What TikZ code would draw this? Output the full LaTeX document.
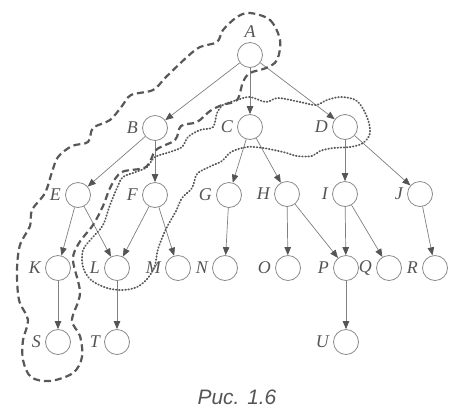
\documentclass[tikz,border=0pt]{standalone}
\usepackage{fontspec}
\setmainfont{Liberation Serif}
\newfontfamily\capfont{Liberation Sans}
\usetikzlibrary{arrows.meta}

\definecolor{vgray}{HTML}{8A8A8A}
\definecolor{egray}{HTML}{808080}
\definecolor{tgray}{HTML}{555555}
\definecolor{cgray}{HTML}{585858}

\begin{document}
\begin{tikzpicture}[x=1bp,y=-1bp,
  vert/.style={circle,draw=vgray,line width=0.8bp,minimum size=25bp,inner sep=0pt},
  edge/.style={draw=egray,line width=0.7bp,
    -{Triangle[length=8bp,width=6.5bp,color=tgray,fill=tgray]}},
  every label/.style={font=\fontsize{18}{20}\selectfont\itshape,text=tgray,inner sep=0pt},
  label distance=4bp,
  dashloop/.style={draw=cgray,line width=2.2bp,dash pattern=on 7bp off 4bp},
  dotloop/.style={draw=cgray,line width=1.8bp,dash pattern=on 0.7bp off 2.4bp,line cap=round}
]
\useasboundingbox (0,0) rectangle (456,410);
\fill[white] (0,0) rectangle (456,410);

% vertices of the tree
\newcommand\vx[4]{\node[vert,label={#4:#1}] (#1) at (#2,#3) {};}
\vx{A}{250}{55}{above}
\vx{B}{155}{128}{left}
\vx{C}{250}{127}{left}
\vx{D}{345}{127}{left}
\vx{E}{78}{195}{left}
\vx{F}{155}{195}{left}
\vx{G}{229}{195}{left}
\vx{H}{287}{194}{left}
\vx{I}{345}{194}{left}
\vx{J}{420}{194}{left}
\vx{K}{58}{268}{left}
\vx{L}{117}{268}{left}
\vx{M}{178}{268}{left}
\vx{N}{225}{268}{left}
\vx{O}{288}{268}{left}
\vx{P}{346}{268}{left}
\vx{Q}{389}{268}{left}
\vx{R}{435}{268}{left}
\vx{S}{58}{342}{left}
\vx{T}{117}{342}{left}
\vx{U}{346}{342}{left}

% directed edges
\foreach \a/\b in {A/B,A/C,A/D,B/E,B/F,C/G,C/H,D/I,D/J,
                   E/K,E/L,F/L,F/M,G/N,H/O,H/P,I/P,I/Q,J/R,
                   K/S,L/T,P/U}
  \draw[edge] (\a) -- (\b);

% dashed contour around A, B, E, K, S
\draw[dashloop] plot[smooth cycle,tension=0.55] coordinates {
  (250,13) (270,20) (280,40) (277,60) (266,68) (250,73) (243,82) (237,100)
  (222,105) (210,111) (197,122) (181,126) (175,140) (156,150) (146,167)
  (122,172) (111,186) (103,206) (93,225) (79,243) (73,260) (80,293)
  (72,320) (80,336) (82,357) (73,373) (50,381) (31,377) (23,360) (23,340)
  (28,320) (19,300) (17,270) (20,245) (30,226) (32,210) (45,193) (52,172)
  (58,157) (72,146) (88,142) (93,128) (110,120) (122,106) (131,95) (153,90)
  (166,77) (187,57) (200,47) (217,42) (223,30) (237,17)};

% dotted contour around C, D, F, L
\draw[dotloop] plot[smooth cycle,tension=0.55] coordinates {
  (223,105) (237,100) (250,97) (266,102) (278,98) (300,102) (316,105)
  (327,100) (341,97) (357,101) (367,117) (370,133) (363,143) (350,147)
  (333,148) (320,151) (312,156) (297,156) (283,152) (263,148) (247,147)
  (231,152) (222,161) (209,167) (197,174) (192,188) (182,198) (176,211)
  (166,229) (158,249) (155,265) (148,278) (137,287) (123,290) (107,288)
  (91,280) (83,267) (83,250) (93,237) (103,225) (110,205) (117,188)
  (123,177) (136,172) (147,167) (155,157) (170,152) (182,147) (188,137)
  (200,130) (213,127) (217,113)};

% caption
\node[font=\capfont\itshape\fontsize{21}{24}\selectfont,text=tgray] (cap) at (237,397) {Рис. 1.6};
\end{tikzpicture}
\end{document}
